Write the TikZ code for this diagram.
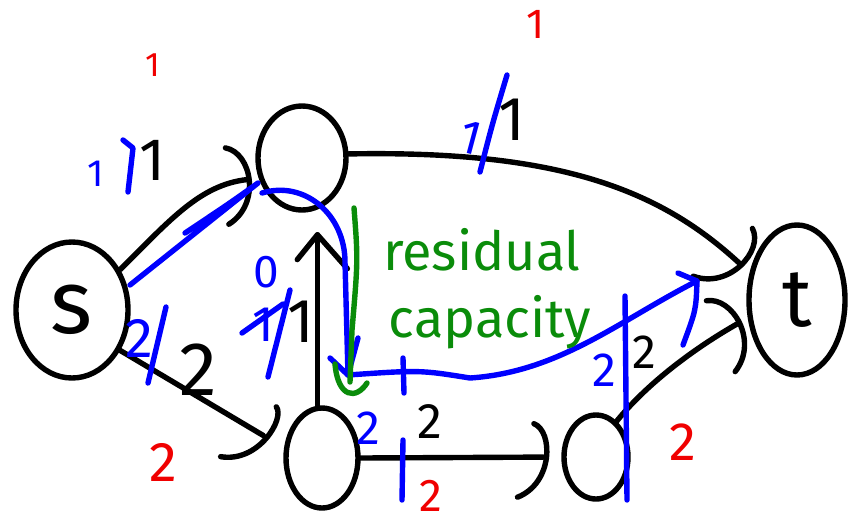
\documentclass[tikz,border=0pt]{standalone}
\usepackage{fontspec}
\setmainfont{Fira Sans}
\usetikzlibrary{arrows.meta,shapes.geometric,decorations.markings}
\definecolor{inkblue}{RGB}{0,0,255}
\definecolor{inkred}{RGB}{240,0,0}
\definecolor{inkgreen}{RGB}{10,140,10}
\begin{document}
\begin{tikzpicture}[x=1pt,y=-1pt,
  pen/.style={line width=5.4pt, line cap=round, line join=round},
  vertex/.style={ellipse, draw, pen, inner sep=0pt},
  hookedge/.style={pen, shorten >=#1, postaction={decorate, decoration={markings,
      mark=at position -#1 with {\draw[pen] (-26pt,-40pt) .. controls (10pt,-26pt) and (10pt,26pt) .. (-26pt,40pt);}}}},
  barbedge/.style={pen, shorten >=#1, postaction={decorate, decoration={markings,
      mark=at position -#1 with {\draw[pen] (-34pt,-30pt) -- (0pt,0pt) -- (-42pt,34pt);}}}},
  bpen/.style={pen, draw=inkblue},
  gpen/.style={pen, draw=inkgreen},
  lab/.style={inner sep=0pt, font=\fontsize{#1}{#1}\selectfont},
  blab/.style={lab=#1, text=inkblue},
  rlab/.style={lab=#1, text=inkred},
  glab/.style={lab=#1, text=inkgreen}]
\useasboundingbox (0,0) rectangle (848,528);
\fill[white] (0,0) rectangle (848,528);

% vertices
\node[vertex, minimum width=112pt, minimum height=136pt, lab=90] (s) at (72,310) {s};
\node[vertex, minimum width=88pt, minimum height=104pt] (u) at (302,158) {};
\node[vertex, minimum width=72pt, minimum height=100pt] (v) at (322,458) {};
\node[vertex, minimum width=64pt, minimum height=84pt] (w) at (596,457) {};
\node[vertex, minimum width=96pt, minimum height=150pt, lab=82] (t) at (797,300) {t};

% edges
\draw[hookedge=12pt] (s.40) .. controls (170,220) and (200,185) .. (u.205);
\draw[hookedge=24pt] (s.-40) -- (v.165);
\draw[barbedge=22pt] (v.95) -- (v.95 |- u.south);
\draw[hookedge=18pt] (v.east) -- (w.west);
\draw[hookedge=14pt] (u.5) .. controls (560,150) and (660,190) .. (t.150);
\draw[hookedge=12pt] (w.60) .. controls (650,380) and (700,345) .. (t.200);

% black capacities
\node[lab=60] (c1) at (152,160) {1};
\node[lab=76] (c2) at (198,370) {2};
\node[lab=62] (c3) at (301,322) {1};
\node[lab=62] (c4) at (512,120) {1};
\node[lab=50] (c5) at (430,422) {2};
\node[lab=48] (c6) at (644,352) {2};

% red labels
\node[rlab=34] (r1) at (153,65) {1};
\node[rlab=42] (r2) at (536,24) {1};
\node[rlab=56] (r3) at (163,462) {2};
\node[rlab=46] (r4) at (431,496) {2};
\node[rlab=54] (r5) at (683,442) {2};

% blue flows
\node[blab=38] (f1) at (96,174) {1};
\draw[bpen] (123,140) -- (133,148) -- (128,192);
\node[blab=56] (f2) at (139,338) {2};
\draw[bpen] (166,307) -- (148,383);
\node[blab=46] (f3) at (266,272) {0};
\node[blab=50] (f4) at (263,325) {1};
\draw[bpen] (242,333) -- (283,304);
\draw[bpen] (290,290) -- (268,377);
\node[blab=48, rotate=-15] (f5) at (471,138) {1};
\draw[bpen] (480,172) .. controls (492,125) .. (507,75);
\node[blab=48] (f6) at (368,428) {2};
\node[blab=48] (f7) at (604,370) {2};
\draw[bpen] (403,358) -- (404,393);
\draw[bpen] (403,440) -- (402,500);
\draw[bpen] (625,296) -- (627,500);

% blue augmenting path
\coordinate (p0) at (130,285);
\coordinate (p1) at (258,183);
\coordinate (p2) at (262,193);
\coordinate (p3) at (348,375);
\coordinate (p4) at (697,281);
\draw[bpen] (p0) -- (p1) .. controls (230,203) .. (185,233);
\draw[bpen] (p2) .. controls (305,180) and (345,215) .. (345,262) -- (p3);
\draw[bpen] (330,358) -- (p3) -- (358,338);
\draw[bpen] (p3) .. controls (420,370) .. (470,378) .. controls (560,372) and (620,320) .. (p4);
\draw[bpen] (678,273) -- (p4) .. controls (696,310) .. (683,345);

% green annotation
\coordinate (g0) at (354,208);
\coordinate (g1) at (350,382);
\draw[gpen] (g0) .. controls (358,260) .. (352,330) -- (g1);
\draw[gpen] (335,364) .. controls (338,398) and (356,400) .. (367,383);
\node[glab=54] (res) at (482,250) {residual};
\node[glab=54] (cap) at (490,322) {capacity};
\end{tikzpicture}
\end{document}
